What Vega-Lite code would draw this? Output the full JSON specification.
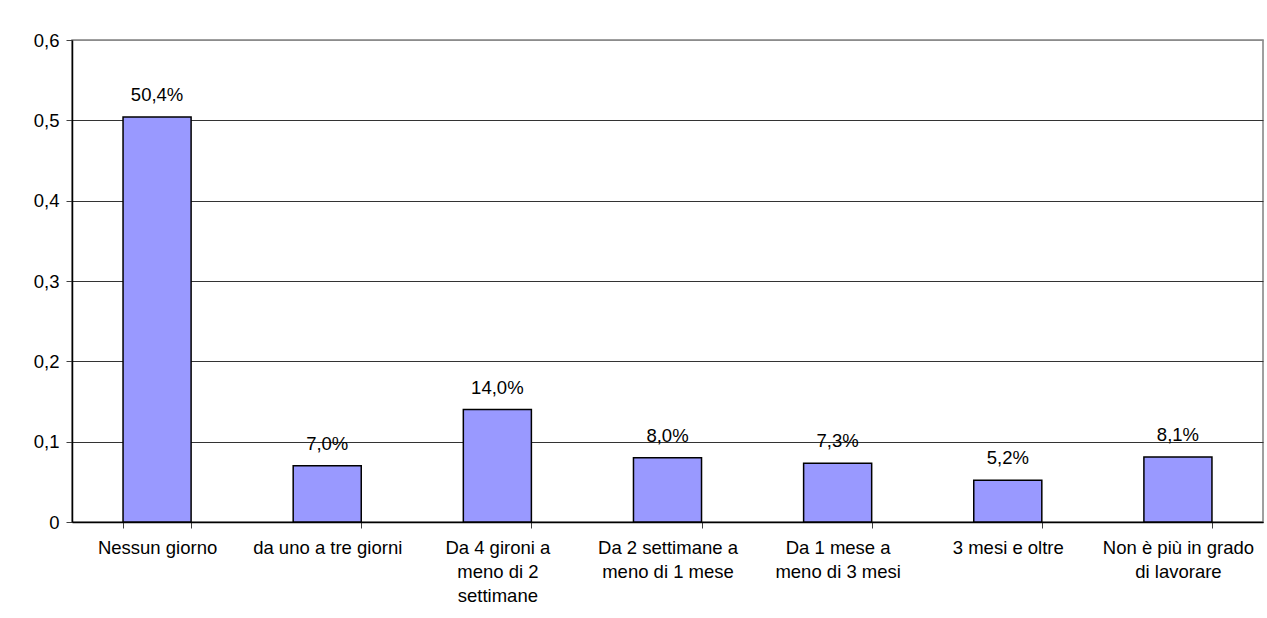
{
  "$schema": "https://vega.github.io/schema/vega-lite/v6.json",
  "autosize": {"type": "none"},
  "width": 1191,
  "height": 482,
  "padding": {"left": 72, "top": 40, "right": 4, "bottom": 96},
  "background": "white",
  "config": {
    "locale": {"number": {"decimal": ",", "thousands": ".", "grouping": [3], "currency": ["€", ""]}},
    "font": "Liberation Sans",
    "view": {"stroke": "#808080", "strokeWidth": 1.5}
  },
  "data": {
    "values": [
      {"cat": "Nessun giorno", "v": 0.504},
      {"cat": "da uno a tre giorni", "v": 0.070},
      {"cat": "Da 4 gironi a meno di 2 settimane", "v": 0.140},
      {"cat": "Da 2 settimane a meno di 1 mese", "v": 0.080},
      {"cat": "Da 1 mese a meno di 3 mesi", "v": 0.073},
      {"cat": "3 mesi e oltre", "v": 0.052},
      {"cat": "Non è più in grado di lavorare", "v": 0.081}
    ]
  },
  "encoding": {
    "x": {
      "field": "cat", "type": "nominal", "sort": null,
      "scale": {"paddingInner": 0.6, "paddingOuter": 0.3},
      "axis": {
        "title": null, "labelAngle": 0, "labelFontSize": 18.5, "labelColor": "black",
        "labelPadding": 10, "tickBand": "extent", "tickColor": "#404040", "tickSize": 6,
        "domainColor": "black", "domainWidth": 1.5, "labelLineHeight": 24,
        "labelExpr": "datum.value == 'Da 4 gironi a meno di 2 settimane' ? ['Da 4 gironi a','meno di 2','settimane'] : datum.value == 'Da 2 settimane a meno di 1 mese' ? ['Da 2 settimane a','meno di 1 mese'] : datum.value == 'Da 1 mese a meno di 3 mesi' ? ['Da 1 mese a','meno di 3 mesi'] : datum.value == 'Non è più in grado di lavorare' ? ['Non è più in grado','di lavorare'] : datum.value"
      }
    },
    "y": {
      "field": "v", "type": "quantitative",
      "scale": {"domain": [0, 0.6], "nice": false},
      "axis": {
        "title": null, "values": [0, 0.1, 0.2, 0.3, 0.4, 0.5, 0.6], "format": ".1~f",
        "labelFontSize": 18.5, "labelColor": "black", "labelPadding": 7,
        "tickColor": "#404040", "tickSize": 6, "domainColor": "black", "domainWidth": 1.5,
        "gridColor": {"condition": {"test": "datum.value > 0.55", "value": "#8c8c8c"}, "value": "#333333"},
        "gridOpacity": 1, "gridWidth": 1
      }
    }
  },
  "layer": [
    {"mark": {"type": "bar", "color": "#9999FF", "stroke": "black", "strokeWidth": 1.5}},
    {
      "mark": {"type": "text", "dy": -22, "fontSize": 18.5, "color": "black", "baseline": "middle"},
      "encoding": {"text": {"field": "v", "type": "quantitative", "format": ".1%"}}
    }
  ]
}
